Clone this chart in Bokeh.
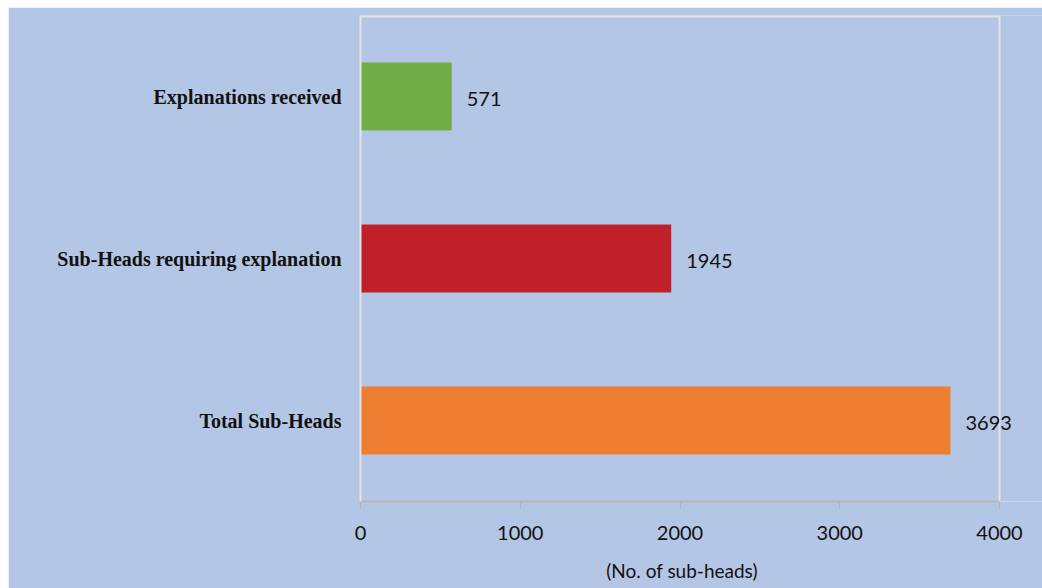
from bokeh.plotting import figure
from bokeh.models import ColumnDataSource, FactorRange, Range1d, LabelSet, FixedTicker, Span
from bokeh.core.properties import value
from bokeh.embed import file_html
from bokeh.resources import INLINE

categories = ["Total Sub-Heads", "Sub-Heads requiring explanation", "Explanations received"]
values = [3693, 1945, 571]
colors = ["#ed7d31", "#c0202a", "#70ad47"]
x_ticks = [0, 1000, 2000, 3000, 4000]
x_max = 4000
x_title = "(No. of sub-heads)"

src = ColumnDataSource(dict(cat=categories, val=values, color=colors,
                            lbl=[str(v) for v in values]))

bg = "#b4c6e5"
frame_col = "#e4e4e4"
# frame spans 639 px for 0..4000; extend the range to the figure's right edge so labels are not clipped
x_end = x_max * 682 / 639
p = figure(width=1034, height=581, output_backend="svg", toolbar_location=None,
           y_range=FactorRange(factors=categories, range_padding=0),
           x_range=Range1d(0, x_end),
           background_fill_color=bg, border_fill_color=bg,
           min_border_left=352, min_border_right=0, min_border_top=8, min_border_bottom=87)
p.margin = (7, 0, 0, 8)
p.outline_line_color = None

p.hbar(y="cat", right="val", left=0, height=0.42, fill_color="color", line_color=None, source=src)

# frame lines (top and right) ending at x_max
p.add_layout(Span(location=x_max, dimension="height", line_color=frame_col, line_width=2))
top_src = ColumnDataSource(dict(x0=[0], x1=[x_max], y=[(categories[-1], 0.5)]))
p.segment(x0="x0", x1="x1", y0="y", y1="y", source=top_src, line_color=frame_col, line_width=4)

labels = LabelSet(x="val", y="cat", text="lbl", source=src, x_offset=15, y_offset=-2,
                  text_baseline="middle", text_align="left", text_font=value("Lato"),
                  text_font_size="20px", text_color="#111111")
p.add_layout(labels)

p.xgrid.visible = False
p.ygrid.visible = False

xa = p.xaxis[0]
xa.ticker = FixedTicker(ticks=x_ticks)
xa.bounds = (0, x_max)
xa.minor_tick_line_color = None
xa.major_tick_in = 0
xa.major_tick_out = 8
xa.major_tick_line_color = "#b5b5b5"
xa.axis_line_color = "#b5b5b5"
xa.axis_line_width = 2
xa.major_label_text_font = "Lato"
xa.major_label_text_font_size = "20px"
xa.major_label_text_color = "#111111"
xa.major_label_standoff = 16
# pad on the right so the title is centred under 0..4000 rather than the extended frame
xa.axis_label = x_title + "\u00a0" * 8
xa.axis_label_text_font = "Lato"
xa.axis_label_text_font_style = "normal"
xa.axis_label_text_font_size = "19px"
xa.axis_label_text_color = "#111111"
xa.axis_label_standoff = 16

ya = p.yaxis[0]
ya.major_tick_line_color = None
ya.minor_tick_line_color = None
ya.axis_line_color = frame_col
ya.axis_line_width = 2
ya.major_label_text_font = "Liberation Serif"
ya.major_label_text_font_style = "bold"
ya.major_label_text_font_size = "20px"
ya.major_label_text_color = "#111111"
ya.major_label_standoff = 13

open("out.html", "w").write(file_html(p, INLINE))
